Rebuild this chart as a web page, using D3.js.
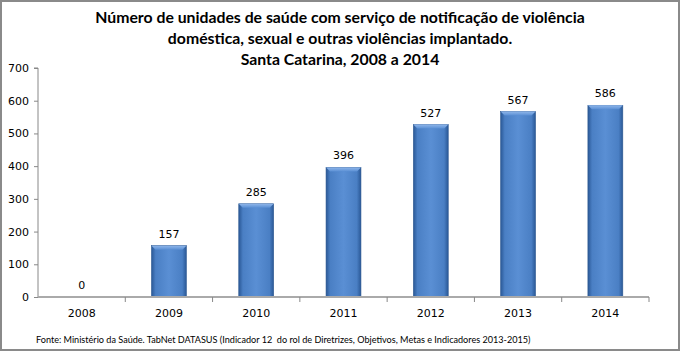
<!DOCTYPE html>
<html><head><meta charset="utf-8">
<script src="https://cdn.jsdelivr.net/npm/d3@7"></script>
<style>body{margin:0;background:#fff}svg{display:block}</style>
</head><body>
<svg id="c" width="680" height="351"></svg>
<script>
const years = ["2008","2009","2010","2011","2012","2013","2014"];
const values = [0,157,285,396,527,567,586];
const yTicks = [0,100,200,300,400,500,600,700];
const titleLines = ["Número de unidades de saúde com serviço de notificação de violência","doméstica, sexual e outras violências implantado.","Santa Catarina, 2008 a 2014"];
const source = "Fonte: Ministério da Saúde. TabNet DATASUS (Indicador 12  do rol de Diretrizes, Objetivos, Metas e Indicadores 2013-2015)";

const svg = d3.select("#c");
const W=680,H=351;
svg.append("rect").attr("x",1).attr("y",1).attr("width",W-2).attr("height",H-2).attr("fill","#fff").attr("stroke","#8a8a8a").attr("stroke-width",2);

const defs = svg.append("defs");
const g1 = defs.append("linearGradient").attr("id","bar").attr("x1","0").attr("x2","1").attr("y1","0").attr("y2","0");
[[0,"#2a5896"],[0.12,"#4a7fc4"],[0.5,"#5a8fd4"],[0.88,"#4a7fc4"],[1,"#2a5896"]].forEach(s=>g1.append("stop").attr("offset",s[0]).attr("stop-color",s[1]));
const g2 = defs.append("linearGradient").attr("id","bartop").attr("x1","0").attr("x2","0").attr("y1","0").attr("y2","1");
[[0,"#8fb6ea"],[1,"#5a8fd4"]].forEach(s=>g2.append("stop").attr("offset",s[0]).attr("stop-color",s[1]));

const title = svg.append("text").attr("text-anchor","middle").attr("font-family","Lato, 'Open Sans', sans-serif").attr("font-weight","bold").attr("font-size",15.8).attr("fill","#000");
titleLines.forEach((t,i)=>title.append("tspan").attr("x",340).attr("y",23+i*21).text(t));

const x0=38, x1=649, y0=297, yTop=68;
const x = d3.scaleBand().domain(years).range([x0,x1]).paddingInner(0.6).paddingOuter(0.3);
const xc = d3.scaleBand().domain(years).range([x0,x1]);
const y = d3.scaleLinear().domain([0,700]).range([y0,yTop]);

// y axis
const ya = svg.append("g").attr("transform",`translate(${x0},0)`).call(d3.axisLeft(y).tickValues(yTicks).tickSize(4).tickPadding(5));
ya.select(".domain").attr("stroke","#888").attr("d",`M-4,${yTop}H0V${y0}`);
ya.selectAll(".tick line").attr("stroke","#888");
ya.selectAll("text").attr("font-family","Tahoma, 'DejaVu Sans', sans-serif").attr("font-size",11).attr("fill","#000");

// bars
const bars = svg.append("g");
years.forEach((yr,i)=>{
  const v=values[i]; if(v<=0) return;
  const bx=x(yr), bw=x.bandwidth(), by=y(v), bh=y0-by;
  bars.append("rect").attr("x",bx).attr("y",by).attr("width",bw).attr("height",bh).attr("fill","url(#bar)").attr("stroke","#2f5a92").attr("stroke-width",0.6);
  bars.append("path").attr("d",`M${bx},${by}H${bx+bw}L${bx+bw-4},${by+4}H${bx+4}Z`).attr("fill","url(#bartop)");
});

// x axis
const xa = svg.append("g").attr("transform",`translate(0,${y0})`);
xa.append("line").attr("x1",x0).attr("x2",x1).attr("y1",0).attr("y2",0).attr("stroke","#aaa").attr("stroke-width",2);
years.slice(1).forEach(yr=>xa.append("line").attr("x1",xc(yr)).attr("x2",xc(yr)).attr("y1",0).attr("y2",5).attr("stroke","#888"));
xa.append("line").attr("x1",x1).attr("x2",x1).attr("y1",0).attr("y2",5).attr("stroke","#888");
years.forEach(yr=>xa.append("text").attr("x",xc(yr)+xc.bandwidth()/2).attr("y",20).attr("text-anchor","middle").attr("font-family","Tahoma, 'DejaVu Sans', sans-serif").attr("font-size",11).text(yr));

// labels
years.forEach((yr,i)=>svg.append("text").attr("x",x(yr)+x.bandwidth()/2).attr("y",y(values[i])-8).attr("text-anchor","middle").attr("font-family","Tahoma, 'DejaVu Sans', sans-serif").attr("font-size",11).text(values[i]));

svg.append("text").attr("x",36).attr("y",343).attr("font-family","Lato, 'Open Sans', sans-serif").attr("font-size",9.1).style("white-space","pre").text(source);
</script>
</body></html>
